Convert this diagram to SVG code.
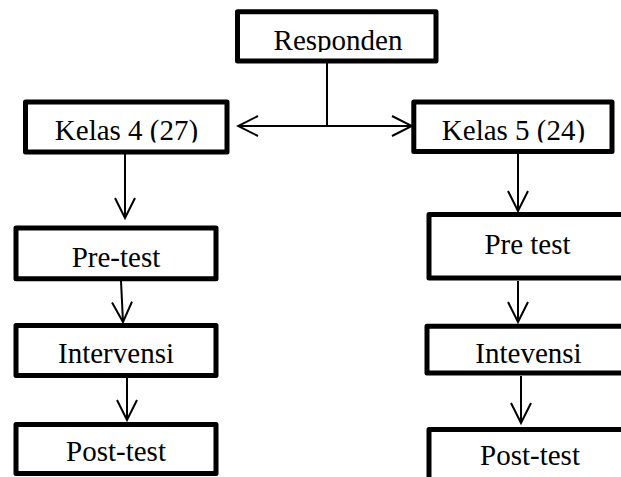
<svg xmlns="http://www.w3.org/2000/svg" width="621" height="477" viewBox="0 0 621 477">
<style>
.box{fill:#fff;stroke:#000;stroke-width:5;stroke-linejoin:round}
.t{font-family:"Liberation Serif","Times New Roman",serif;font-size:29px;fill:#000;text-anchor:middle}
.c{fill:none;stroke:#000;stroke-width:2}
</style>
<defs>
<marker id="ah" viewBox="-22 -12 24 24" refX="0" refY="0" markerWidth="24" markerHeight="24" markerUnits="userSpaceOnUse" orient="auto-start-reverse">
<path d="M-20,-10 L0,0 L-20,10" fill="none" stroke="#000" stroke-width="2"/>
</marker>
<clipPath id="cr"><rect x="0" y="0" width="621" height="52"/></clipPath>
<clipPath id="ck"><rect x="0" y="0" width="621" height="142.5"/></clipPath>
</defs>
<rect width="621" height="477" fill="#fff"/>
<g id="connectors">
<line class="c" x1="327" y1="63" x2="327" y2="126"/>
<line class="c" x1="238" y1="126" x2="412" y2="126" marker-start="url(#ah)" marker-end="url(#ah)"/>
<line class="c" x1="125" y1="154" x2="125" y2="218" marker-end="url(#ah)"/>
<line class="c" x1="121" y1="281" x2="123" y2="322" marker-end="url(#ah)"/>
<line class="c" x1="127" y1="378" x2="127" y2="420" marker-end="url(#ah)"/>
<line class="c" x1="518" y1="154" x2="518" y2="211" marker-end="url(#ah)"/>
<line class="c" x1="518" y1="281" x2="518" y2="322" marker-end="url(#ah)"/>
<line class="c" x1="521" y1="376" x2="521" y2="423" marker-end="url(#ah)"/>
</g>
<g id="responden"><rect class="box" x="237.5" y="11.8" width="198.5" height="49.2"/><text class="t" x="338" y="50" clip-path="url(#cr)">Responden</text></g>
<g id="kelas4"><rect class="box" x="25.5" y="102" width="201.5" height="50"/><text class="t" x="126.5" y="140" clip-path="url(#ck)">Kelas 4 (27)</text></g>
<g id="kelas5"><rect class="box" x="413.8" y="102" width="198.2" height="49.5"/><text class="t" x="513.5" y="140" clip-path="url(#ck)">Kelas 5 (24)</text></g>
<g id="pretest-l"><rect class="box" x="16" y="228" width="200" height="50.7"/><text class="t" x="116" y="266.5">Pre-test</text></g>
<g id="intervensi-l"><rect class="box" x="16" y="325.5" width="200" height="50"/><text class="t" x="116" y="363">Intervensi</text></g>
<g id="posttest-l"><rect class="box" x="16" y="424.5" width="200" height="49"/><text class="t" x="116" y="461">Post-test</text></g>
<g id="pretest-r"><rect class="box" x="429" y="214.5" width="220" height="63.5"/><text class="t" x="527.5" y="254">Pre test</text></g>
<g id="intevensi-r"><rect class="box" x="427" y="326.3" width="220" height="46.7"/><text class="t" x="528.5" y="363">Intevensi</text></g>
<g id="posttest-r"><rect class="box" x="429" y="429.5" width="220" height="70"/><text class="t" x="530" y="465">Post-test</text></g>
</svg>
